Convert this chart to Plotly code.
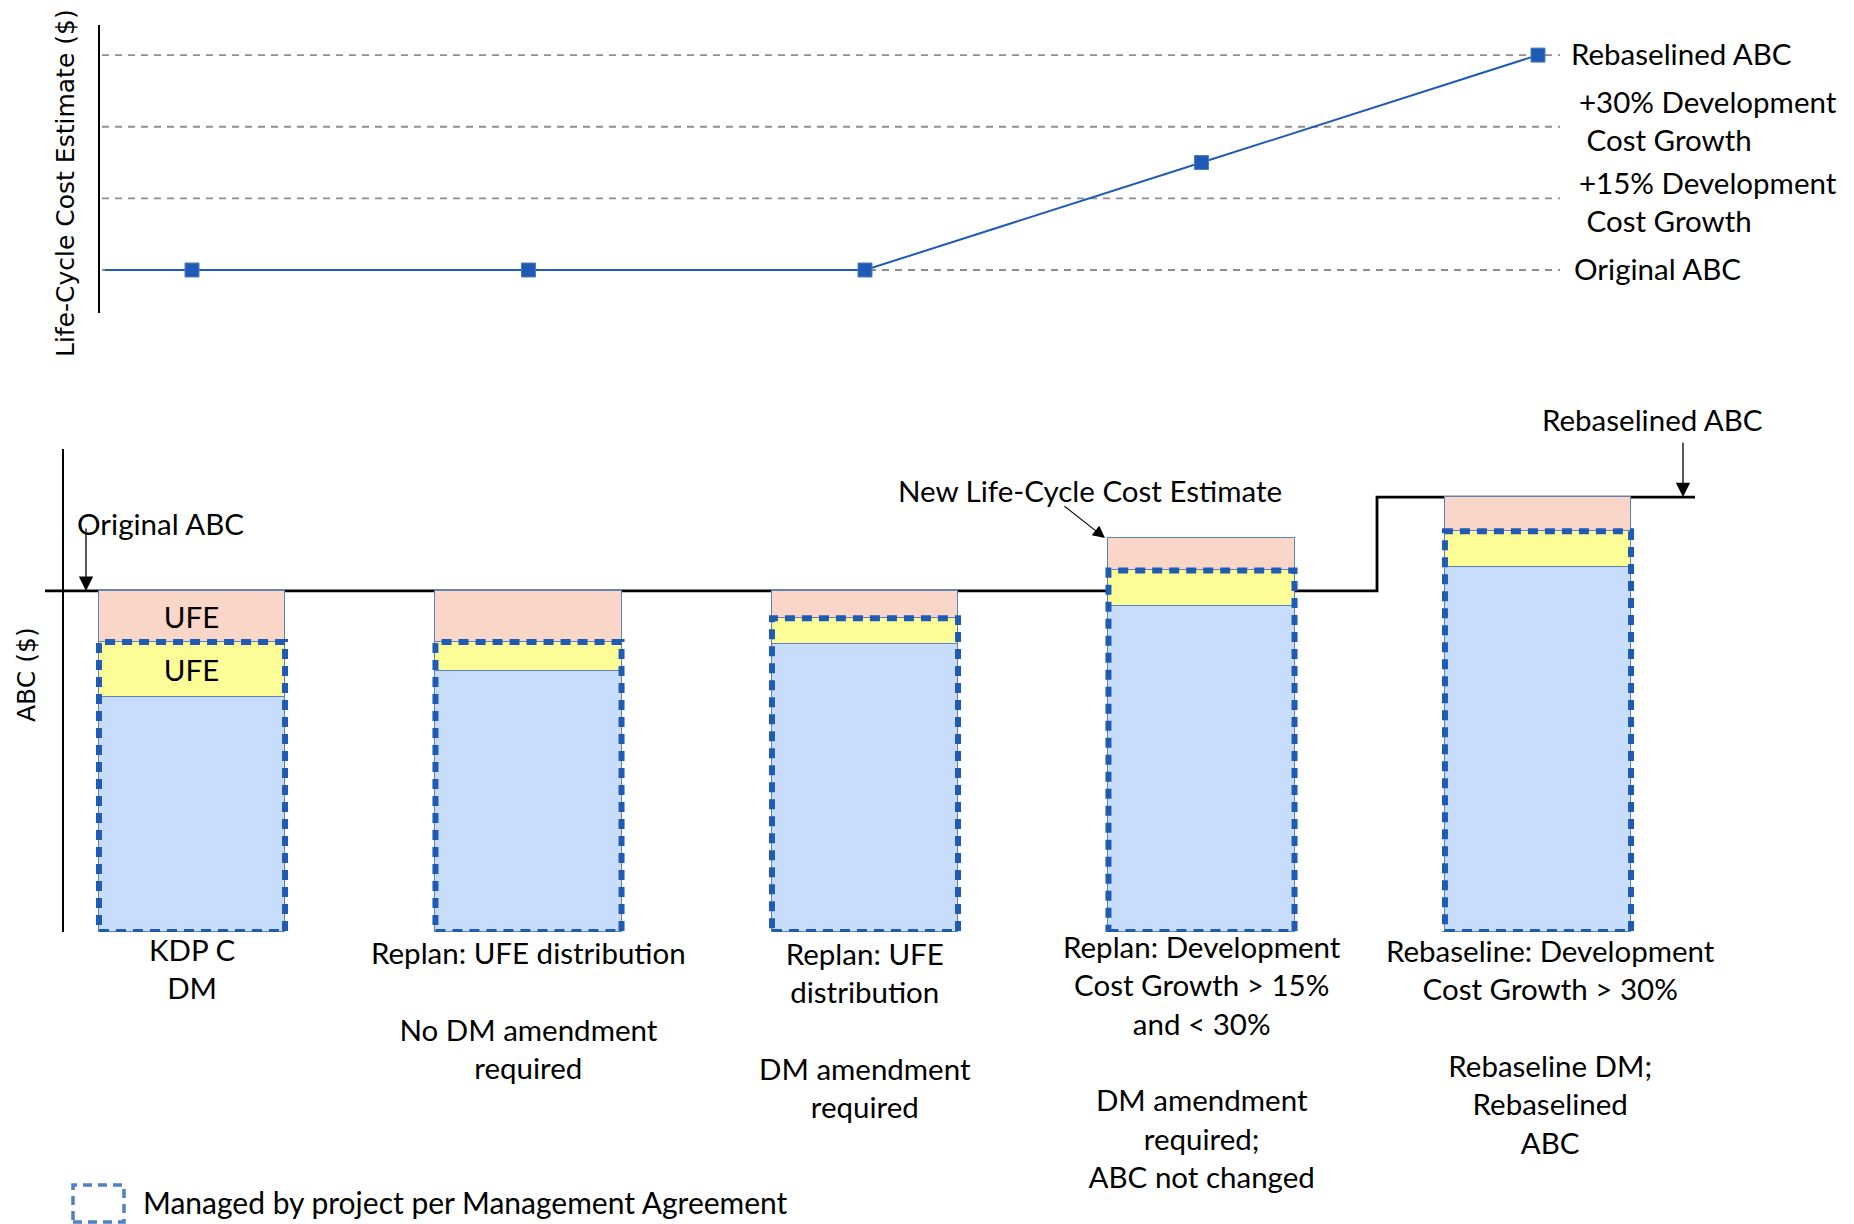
import plotly.graph_objects as go

# ---------------- data ----------------
stage_labels = [
    "KDP C<br>DM",
    "Replan: UFE distribution<br> <br>No DM amendment<br>required",
    "Replan: UFE<br>distribution<br> <br>DM amendment<br>required",
    "Replan: Development<br>Cost Growth &gt; 15%<br>and &lt; 30%<br> <br>DM amendment<br>required;<br>ABC not changed",
    "Rebaseline: Development<br>Cost Growth &gt; 30%<br> <br>Rebaseline DM;<br>Rebaselined<br>ABC",
]
lcce_values = [100, 100, 100, 122.5, 145]          # life-cycle cost estimate per stage
threshold_levels = [100, 115, 130, 145]
threshold_labels = ["Original ABC", "+15% Development<br>&nbsp;Cost Growth",
                    "+30% Development<br>&nbsp;Cost Growth", "Rebaselined ABC"]
base_cost = [69, 76.5, 84.5, 95.5, 107]            # blue
ufe_project = [16, 8.5, 7.5, 10.5, 10.5]           # yellow (project-held UFE)
ufe_hq = [15, 15, 8, 9.5, 10]                      # pink (UFE above project)
ufe_text_project = ["UFE", "", "", "", ""]
ufe_text_hq = ["UFE", "", "", "", ""]
original_abc = 100
rebaselined_abc = 127.5
legend_text = "Managed by project per Management Agreement"

# ---------------- layout helpers ----------------
W, H = 1854, 1224
X0PX, XSTEP = 192.0, 336.5          # pixel of category 0, pixels per category
BAR_W = 0.553
LABEL_TOP_PX = [930, 933, 934, 927, 931]
LABEL_XSHIFT_PX = [0, 0, 0, 0, 12]

def dx(px):
    return (px - X0PX) / XSTEP

def py(px):
    return 1 - px / H

stages = list(range(len(base_cost)))
FONT = "Lato"
FS = 29.5
BLUE = "#1f5bb4"

fig = go.Figure()

# top panel: life-cycle cost estimate line
fig.add_trace(go.Scatter(
    x=[dx(105)] + stages, y=[lcce_values[0]] + lcce_values,
    mode="lines", line=dict(color=BLUE, width=2),
    xaxis="x", yaxis="y", hoverinfo="skip"))
fig.add_trace(go.Scatter(
    x=stages, y=lcce_values, mode="markers",
    marker=dict(symbol="square", size=14, color=BLUE, line=dict(color="#4a7cc6", width=1)),
    xaxis="x", yaxis="y", hoverinfo="skip"))

# bottom panel: stacked bars
bar_line = dict(color="#5a80c4", width=1)
fig.add_trace(go.Bar(x=stages, y=base_cost, width=BAR_W, marker=dict(color="#c8ddfb", line=bar_line),
                     xaxis="x2", yaxis="y2", hoverinfo="skip"))
fig.add_trace(go.Bar(x=stages, y=ufe_project, width=BAR_W, marker=dict(color="#fdfd98", line=bar_line),
                     text=ufe_text_project, textposition="inside", insidetextanchor="middle",
                     constraintext="none", textangle=0,
                     textfont=dict(family=FONT, size=FS, color="black"),
                     xaxis="x2", yaxis="y2", hoverinfo="skip"))
fig.add_trace(go.Bar(x=stages, y=ufe_hq, width=BAR_W, marker=dict(color="#f9d6c8", line=bar_line),
                     text=ufe_text_hq, textposition="inside", insidetextanchor="middle",
                     constraintext="none", textangle=0,
                     textfont=dict(family=FONT, size=FS, color="black"),
                     xaxis="x2", yaxis="y2", hoverinfo="skip"))

shapes = []
# threshold gridlines in top panel
for lvl in threshold_levels:
    shapes.append(dict(type="line", xref="x", yref="y", x0=dx(102), x1=dx(1560), y0=lvl, y1=lvl,
                       line=dict(color="#8e8e8e", width=1.8, dash="7px,6px"), layer="below"))
# ABC step line in bottom panel
step_x = dx(1377)
path = (f"M {dx(45)},{original_abc} L {step_x},{original_abc} "
        f"L {step_x},{rebaselined_abc} L {dx(1695)},{rebaselined_abc}")
shapes.append(dict(type="path", xref="x2", yref="y2", path=path,
                   line=dict(color="black", width=2.8), layer="below"))
# dashed boxes: managed by project
for i, (b, u) in enumerate(zip(base_cost, ufe_project)):
    shapes.append(dict(type="rect", xref="x2", yref="y2", x0=i - BAR_W / 2, x1=i + BAR_W / 2,
                       y0=0, y1=b + u, line=dict(color=BLUE, width=6, dash="10px,7px"),
                       fillcolor="rgba(0,0,0,0)", layer="above"))
# legend swatch
shapes.append(dict(type="rect", xref="paper", yref="paper", x0=73 / W, x1=124 / W,
                   y0=py(1222), y1=py(1185), line=dict(color="#4f81c4", width=3.5, dash="9px,6px"),
                   fillcolor="rgba(0,0,0,0)"))

ann = []
tf = dict(family=FONT, size=FS, color="black")
# axis titles
ann.append(dict(text="Life-Cycle Cost Estimate ($)", textangle=-90, xref="paper", yref="paper",
                x=65 / W, y=py(183), xanchor="center", yanchor="middle", showarrow=False,
                font=dict(family="DejaVu Sans", size=25, color="black")))
ann.append(dict(text="ABC ($)", textangle=-90, xref="paper", yref="paper",
                x=26 / W, y=py(675), xanchor="center", yanchor="middle", showarrow=False,
                font=dict(family="DejaVu Sans", size=25, color="black")))
# threshold labels
label_px = {0: (1572, 2), 1: (1577, -3), 2: (1577, 6), 3: (1569, 2)}
for k, (lvl, lab) in enumerate(zip(threshold_levels, threshold_labels)):
    xp, ys = label_px[k]
    ann.append(dict(text=lab, xref="paper", yref="y", x=xp / W, y=lvl, xanchor="left",
                    yanchor="middle", align="left", showarrow=False, yshift=ys, font=tf))
# stage labels
for i, lab in enumerate(stage_labels):
    ann.append(dict(text=lab, xref="x2", yref="paper", x=i, y=py(LABEL_TOP_PX[i]),
                    xshift=LABEL_XSHIFT_PX[i], xanchor="center",
                    yanchor="top", align="center", showarrow=False, font=tf))
# bottom panel callouts
ann.append(dict(text="Original ABC", xref="paper", yref="paper", x=75 / W, y=py(523),
                xanchor="left", yanchor="middle", showarrow=False, font=tf))
ann.append(dict(text="", xref="x2", yref="y2", x=dx(86), y=original_abc, ax=0, ay=-64,
                showarrow=True, arrowhead=2, arrowsize=2.2, arrowwidth=1.3, arrowcolor="black"))
ann.append(dict(text="New Life-Cycle Cost Estimate", xref="paper", yref="paper", x=1090 / W,
                y=py(490), xanchor="center", yanchor="middle", showarrow=False, font=tf))
new_lcce_top = base_cost[3] + ufe_project[3] + ufe_hq[3]
ann.append(dict(text="", xref="x2", yref="y2", x=dx(1105), y=new_lcce_top, ax=-42, ay=-33,
                showarrow=True, arrowhead=2, arrowsize=2.2, arrowwidth=1.1, arrowcolor="black"))
ann.append(dict(text="Rebaselined ABC", xref="paper", yref="paper", x=1652 / W, y=py(419),
                xanchor="center", yanchor="middle", showarrow=False, font=tf))
ann.append(dict(text="", xref="x2", yref="y2", x=dx(1683), y=rebaselined_abc, ax=0, ay=-56,
                showarrow=True, arrowhead=2, arrowsize=2.2, arrowwidth=1.3, arrowcolor="black"))
# legend text
ann.append(dict(text=legend_text, xref="paper", yref="paper", x=141 / W, y=py(1202),
                xanchor="left", yanchor="middle", showarrow=False,
                font=dict(family=FONT, size=30, color="black")))

xr = [dx(0), dx(W)]
fig.update_layout(
    width=W, height=H, margin=dict(l=0, r=0, t=0, b=0),
    paper_bgcolor="white", plot_bgcolor="white", showlegend=False, hovermode=False,
    barmode="stack", bargap=0,
    xaxis=dict(domain=[0, 1], range=xr, visible=False, anchor="y"),
    yaxis=dict(domain=[py(313), py(25)], range=[91.0, 151.3], anchor="free", position=99 / W,
               showline=True, linecolor="black", linewidth=1.5, showgrid=False, zeroline=False,
               showticklabels=False, ticks=""),
    xaxis2=dict(domain=[0, 1], range=xr, visible=False, anchor="y2"),
    yaxis2=dict(domain=[py(932), py(449)], range=[0, 141.6], anchor="free", position=63 / W,
                showline=True, linecolor="black", linewidth=1.5, showgrid=False, zeroline=False,
                showticklabels=False, ticks=""),
    shapes=shapes, annotations=ann,
)

fig.write_html("out.html", config={"displayModeBar": False},
               post_script="document.body.style.margin='0';document.body.style.overflow='hidden';")
